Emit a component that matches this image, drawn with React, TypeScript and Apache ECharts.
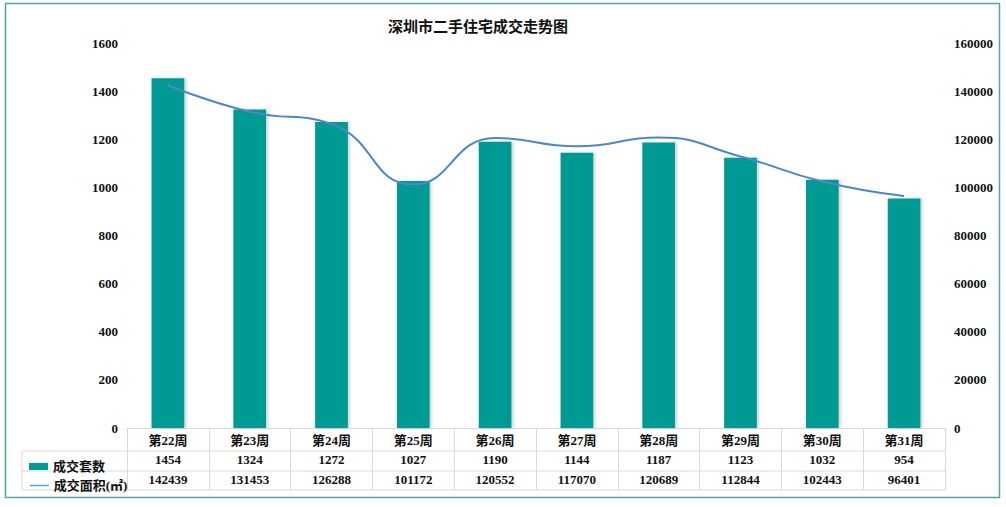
import React, { useEffect, useRef } from "react";
import * as echarts from "echarts";

const weeks = ["第22周", "第23周", "第24周", "第25周", "第26周", "第27周", "第28周", "第29周", "第30周", "第31周"];
const dealCounts = [1454, 1324, 1272, 1027, 1190, 1144, 1187, 1123, 1032, 954];
const dealAreas = [142439, 131453, 126288, 101172, 120552, 117070, 120689, 112844, 102443, 96401];

const FONT = "'Liberation Serif', 'Noto Sans CJK SC', serif";
const GRID_COLOR = "#d9d9d9";

export default function App() {
  const ref = useRef<HTMLDivElement>(null);
  useEffect(() => {
    document.body.style.margin = "0";
    const chart = echarts.init(ref.current!, undefined, { renderer: "svg" });
    const left = 127;
    const right = 945;
    const hLine = (y: number, x1: number) => ({
      type: "line",
      shape: { x1, y1: y, x2: right, y2: y },
      style: { stroke: GRID_COLOR, lineWidth: 1 },
      silent: true,
    });
    const legendText = { fontFamily: FONT, fontSize: 13, fontWeight: "bold", color: "#111" };
    chart.setOption({
      animation: false,
      backgroundColor: "#ffffff",
      title: {
        text: "深圳市二手住宅成交走势图",
        left: 383,
        top: 14,
        textStyle: { fontFamily: FONT, fontSize: 15, fontWeight: "bold", color: "#111" },
      },
      grid: { left, right: 1006 - right, top: 43, bottom: 507 - 428, containLabel: false },
      legend: [
        {
          data: [{ name: "成交套数", icon: "rect" }],
          left: 24,
          top: 455,
          itemWidth: 19,
          itemHeight: 7,
          itemGap: 4,
          textStyle: legendText,
          selectedMode: false,
        },
        {
          data: [{ name: "成交面积(㎡)" }],
          left: 24,
          top: 474,
          itemWidth: 19,
          itemHeight: 7,
          itemGap: 4,
          textStyle: legendText,
          itemStyle: { color: "rgba(0,0,0,0)", borderWidth: 0, opacity: 0 },
          lineStyle: { color: "#6a9fd4", width: 1.5 },
          selectedMode: false,
        },
      ],
      xAxis: {
        type: "category",
        data: weeks,
        axisLine: { show: true, lineStyle: { color: GRID_COLOR, width: 1 } },
        axisTick: { show: true, length: 62, interval: 0, alignWithLabel: false, lineStyle: { color: GRID_COLOR } },
        axisLabel: {
          interval: 0,
          margin: 2,
          formatter: (v: string, i: number) => `{a|${v}}\n{b|${dealCounts[i]}}\n{b|${dealAreas[i]}}`,
          rich: {
            a: { fontFamily: FONT, fontSize: 13, fontWeight: "bold", color: "#111", lineHeight: 20 },
            b: { fontFamily: FONT, fontSize: 13, fontWeight: "bold", color: "#111", lineHeight: 19.5 },
          },
        },
      },
      yAxis: [
        {
          type: "value",
          min: 0,
          max: 1600,
          interval: 200,
          axisLine: { show: false },
          axisTick: { show: false },
          splitLine: { show: false },
          axisLabel: {
            margin: 9,
            formatter: (v: number) => String(v),
            fontFamily: FONT,
            fontSize: 13,
            fontWeight: "bold",
            color: "#111",
          },
        },
        {
          type: "value",
          min: 0,
          max: 160000,
          interval: 20000,
          axisLine: { show: false },
          axisTick: { show: false },
          splitLine: { show: false },
          axisLabel: {
            margin: 9,
            formatter: (v: number) => String(v),
            fontFamily: FONT,
            fontSize: 13,
            fontWeight: "bold",
            color: "#111",
          },
        },
      ],
      series: [
        {
          name: "成交套数",
          type: "bar",
          data: dealCounts,
          barWidth: "40%",
          itemStyle: {
            color: "#009a94",
            shadowColor: "rgba(0,0,0,0.18)",
            shadowBlur: 3,
            shadowOffsetX: 2,
            shadowOffsetY: 0,
          },
        },
        {
          name: "成交面积(㎡)",
          type: "line",
          yAxisIndex: 1,
          data: dealAreas,
          smooth: 0.5,
          symbol: "none",
          lineStyle: { color: "#4f86c6", width: 2 },
          itemStyle: { color: "#4f86c6" },
        },
      ],
      graphic: [
        hLine(451, 22),
        hLine(471, 22),
        hLine(490, 22),
        {
          type: "line",
          shape: { x1: 22, y1: 451, x2: 22, y2: 490 },
          style: { stroke: GRID_COLOR, lineWidth: 1 },
          silent: true,
        },
        {
          type: "rect",
          shape: { x: 5.5, y: 3.5, width: 994, height: 494 },
          style: { fill: "none", stroke: "#4ea6a8", lineWidth: 1.5 },
          silent: true,
        },
      ],
    });
    return () => chart.dispose();
  }, []);
  return <div ref={ref} style={{ width: 1006, height: 507 }} />;
}
